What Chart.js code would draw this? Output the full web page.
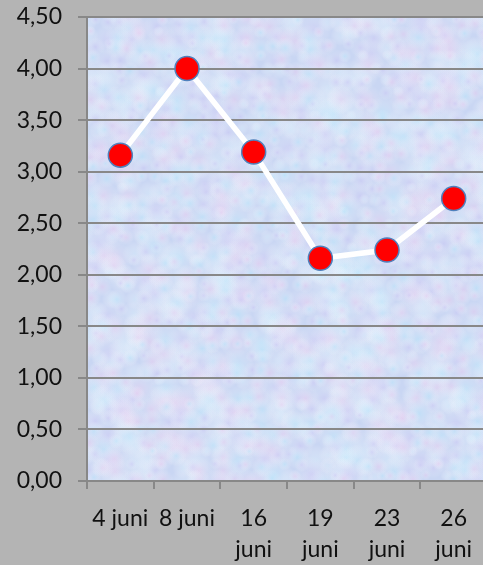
<!DOCTYPE html>
<html>
<head>
<meta charset="utf-8">
<script src="https://cdn.jsdelivr.net/npm/chart.js@4.4.1/dist/chart.umd.min.js"></script>
<style>
  html, body { margin: 0; padding: 0; background: #b4b4b4; overflow: hidden; }
  #wrap { position: relative; width: 487px; height: 565px; }
</style>
</head>
<body>
<div id="wrap"><canvas id="chart"></canvas></div>
<script>
const dateLabels = [['4 juni'], ['8 juni'], ['16', 'juni'], ['19', 'juni'], ['23', 'juni'], ['26', 'juni']];
const values = [3.16, 4.00, 3.19, 2.16, 2.24, 2.74];
const yMin = 0;
const yMax = 4.5;
const yStep = 0.5;

// soft pastel "marble" fill behind the plot
const texturePlugin = {
    id: 'texture',
    beforeDraw(chart) {
        const { ctx, chartArea: a } = chart;
        ctx.save();
        ctx.beginPath();
        ctx.rect(a.left, a.top, a.right - a.left, a.bottom - a.top);
        ctx.clip();
        ctx.fillStyle = '#c9d6f3';
        ctx.fillRect(a.left, a.top, a.right - a.left, a.bottom - a.top);
        const tints = ['rgba(238,200,238,0.4)', 'rgba(182,232,252,0.45)', 'rgba(204,194,244,0.4)', 'rgba(216,238,252,0.45)'];
        let n = 0;
        for (let y = a.top - 10; y < a.bottom + 20; y += 12) {
            for (let x = a.left - 10; x < a.right + 20; x += 12) {
                const h = Math.abs(Math.sin(n * 12.9898 + 78.233) * 43758.5453) % 1;
                const k = Math.abs(Math.sin(n * 4.1414 + 3.7) * 24634.6345) % 1;
                const r = 5 + h * 14;
                const cx = x + k * 12, cy = y + h * 12;
                const g = ctx.createRadialGradient(cx, cy, 0, cx, cy, r);
                const c = tints[Math.floor(k * 4) % 4];
                g.addColorStop(0, c);
                g.addColorStop(1, 'rgba(255,255,255,0)');
                ctx.fillStyle = g;
                ctx.fillRect(cx - r, cy - r, r * 2, r * 2);
                n++;
            }
        }
        ctx.restore();
    }
};

const tickFont = { family: 'Lato, "DejaVu Sans", sans-serif', size: 23 };

new Chart(document.getElementById('chart').getContext('2d'), {
    type: 'line',
    data: {
        labels: dateLabels,
        datasets: [{
            data: values,
            borderColor: '#ffffff',
            borderWidth: 5.5,
            tension: 0,
            pointRadius: 12,
            pointBackgroundColor: '#ff0000',
            pointBorderColor: '#4f81bd',
            pointBorderWidth: 1.5
        }]
    },
    options: {
        responsive: true,
        maintainAspectRatio: false,
        animation: false,
        layout: { autoPadding: false, padding: { top: 17, left: 0, right: 0, bottom: 0 } },
        plugins: {
            legend: { display: false },
            tooltip: { enabled: false }
        },
        scales: {
            x: {
                offset: true,
                grid: {
                    offset: true,
                    drawOnChartArea: false,
                    color: '#888888',
                    lineWidth: 2,
                    tickLength: 8
                },
                border: { color: '#888888', width: 2 },
                ticks: {
                    color: '#111111',
                    font: { ...tickFont, lineHeight: 1.35 },
                    padding: 14,
                    maxRotation: 0,
                    autoSkip: false
                },
                afterFit(scale) {
                    scale.height = 84;
                    scale.paddingLeft = 0;
                    scale.paddingRight = 0;
                }
            },
            y: {
                min: yMin,
                max: yMax,
                grid: {
                    color: '#888888',
                    lineWidth: 2,
                    tickLength: 9
                },
                border: { color: '#888888', width: 2 },
                ticks: {
                    stepSize: yStep,
                    color: '#111111',
                    font: tickFont,
                    padding: 16,
                    callback: v => v.toFixed(2).replace('.', ',')
                },
                afterFit(scale) {
                    scale.width = 87;
                    scale.paddingTop = 0;
                    scale.paddingBottom = 0;
                }
            }
        }
    },
    plugins: [texturePlugin]
});
</script>
</body>
</html>
